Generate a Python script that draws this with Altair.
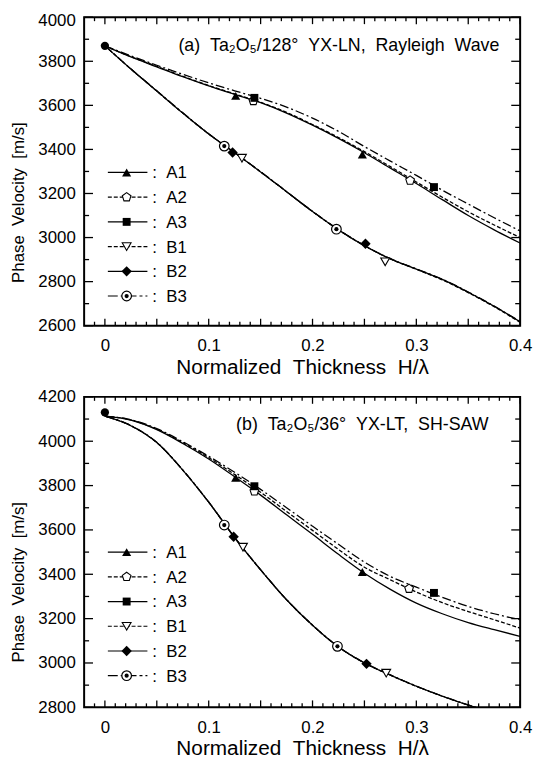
import altair as alt
import pandas as pd

FONT = "Liberation Sans"
SP = "\u00a0\u00a0"  # wide word gaps as in the original typesetting

# ---------------- data ----------------
XG = [0.0, 0.025, 0.05, 0.075, 0.1, 0.125, 0.15, 0.175, 0.2, 0.225,
      0.25, 0.275, 0.3, 0.325, 0.35, 0.375, 0.4]

# (a) Ta2O5/128deg YX-LN, Rayleigh wave
A_A1 = [3870, 3820, 3775, 3730, 3688, 3650, 3612, 3565, 3510, 3450,
        3385, 3315, 3245, 3172, 3100, 3035, 2975]
A_A2 = [3870, 3821, 3777, 3732, 3690, 3652, 3614, 3568, 3513, 3454,
        3390, 3322, 3252, 3183, 3117, 3057, 3000]
A_A3 = [3870, 3825, 3782, 3741, 3702, 3666, 3632, 3592, 3542, 3482,
        3413, 3347, 3282, 3215, 3152, 3090, 3030]
A_B1 = [3870, 3765, 3665, 3565, 3470, 3385, 3298, 3208, 3118, 3035,
        2963, 2903, 2856, 2808, 2750, 2686, 2615]
A_B2 = [3870, 3765, 3665, 3565, 3470, 3385, 3298, 3208, 3118, 3035,
        2963, 2903, 2857, 2810, 2752, 2688, 2618]
A_B3 = [3870, 3766, 3666, 3566, 3471, 3386, 3299, 3209, 3119, 3036,
        2964, 2904, 2858, 2811, 2753, 2689, 2619]

# (b) Ta2O5/36deg YX-LT, SH-SAW
XG_LOW = [0.0, 0.025, 0.05, 0.075, 0.1, 0.125, 0.15, 0.175, 0.2, 0.225,
          0.25, 0.275, 0.3, 0.325, 0.35, 0.36]
B_A1 = [4113, 4095, 4052, 3990, 3920, 3840, 3757, 3668, 3580, 3490,
        3405, 3332, 3270, 3222, 3182, 3150, 3120]
B_A2 = [4113, 4096, 4054, 3994, 3926, 3850, 3770, 3683, 3598, 3512,
        3432, 3375, 3320, 3272, 3232, 3195, 3157]
B_A3 = [4113, 4097, 4057, 3998, 3932, 3860, 3783, 3700, 3617, 3535,
        3455, 3390, 3342, 3296, 3255, 3222, 3195]
B_B1 = [4113, 4070, 3994, 3870, 3725, 3565, 3420, 3285, 3170, 3072,
        3000, 2945, 2895, 2850, 2810, 2795]
B_B2 = [4113, 4070, 3994, 3870, 3725, 3565, 3420, 3285, 3170, 3072,
        3000, 2945, 2895, 2850, 2810, 2795]
B_B3 = [4113, 4071, 3995, 3871, 3726, 3566, 3421, 3286, 3171, 3073,
        3001, 2946, 2896, 2851, 2811, 2796]

# measured points (markers)
A_MX = {"A1": [0.126, 0.248], "A2": [0.143, 0.294], "A3": [0.144, 0.317],
        "B1": [0.132, 0.270], "B2": [0.123, 0.251], "B3": [0.115, 0.223]}
A_MY = {"A1": [3643, 3377], "A2": [3620, 3259], "A3": [3634, 3229],
        "B1": [3360, 2890], "B2": [3386, 2972], "B3": [3415, 3038]}
B_MX = {"A1": [0.126, 0.248], "A2": [0.144, 0.293], "A3": [0.144, 0.317],
        "B1": [0.133, 0.271], "B2": [0.124, 0.252], "B3": [0.115, 0.224]}
B_MY = {"A1": [3835, 3410], "A2": [3774, 3335], "A3": [3797, 3316],
        "B1": [3522, 2954], "B2": [3569, 2996], "B3": [3622, 3075]}

ORIGIN_A = ([0.0], [3870])
ORIGIN_B = ([0.0], [4130])

SERIES = ["A1", "A2", "A3", "B1", "B2", "B3"]
X_LABELS = [0.0, 0.1, 0.2, 0.3, 0.4]
X_MAJOR = [0.0, 0.05, 0.1, 0.15, 0.2, 0.25, 0.3, 0.35, 0.4]
X_MINOR = [-0.01, 0.01, 0.02, 0.03, 0.04, 0.06, 0.07, 0.08, 0.09, 0.11,
           0.12, 0.13, 0.14, 0.16, 0.17, 0.18, 0.19, 0.21, 0.22, 0.23,
           0.24, 0.26, 0.27, 0.28, 0.29, 0.31, 0.32, 0.33, 0.34, 0.36,
           0.37, 0.38, 0.39]
YA_MAJOR = [2600, 2800, 3000, 3200, 3400, 3600, 3800, 4000]
YA_MINOR = [2700, 2900, 3100, 3300, 3500, 3700, 3900]
YB_MAJOR = [2800, 3000, 3200, 3400, 3600, 3800, 4000, 4200]
YB_MINOR = [2900, 3100, 3300, 3500, 3700, 3900, 4100]

# ---------------- styles ----------------
W = 441
DASHED = [4, 2]
DASHDOT = [9, 3, 2, 3]
CURVE_DASH = {"A1": None, "A2": DASHED, "A3": DASHDOT,
              "B1": DASHED, "B2": None, "B3": DASHDOT}
LEG_DASH = {"A1": None, "A2": DASHED, "A3": None,
            "B1": DASHED, "B2": None, "B3": [10, 3, 3, 3]}
PENTAGON = "M0,-1L0.951,-0.309L0.588,0.809L-0.588,0.809L-0.951,-0.309Z"


def marker_marks(s):
    """list of mark_point kwargs for a series' symbol"""
    if s == "A1":
        return [dict(shape="triangle-up", filled=True, color="black", size=85)]
    if s == "A2":
        return [dict(shape=PENTAGON, filled=True, fill="white", stroke="black",
                     strokeWidth=1.1, size=85)]
    if s == "A3":
        return [dict(shape="square", filled=True, color="black", size=64)]
    if s == "B1":
        return [dict(shape="triangle-down", filled=True, fill="white",
                     stroke="black", strokeWidth=1.1, size=80)]
    if s == "B2":
        return [dict(shape="diamond", filled=True, color="black", size=110)]
    return [dict(shape="circle", filled=True, fill="white", stroke="black",
                 strokeWidth=1.2, size=95),
            dict(shape="circle", filled=True, color="black", size=18)]


def make_panel(curves, mx, my, origin, ydom, ymaj, ymin, H, title, title_x,
               top_label_shift):
    xs = alt.Scale(domain=[-0.02, 0.4], nice=False, zero=False)
    ys = alt.Scale(domain=ydom, nice=False, zero=False)
    xax = alt.Axis(values=X_LABELS, grid=False, ticks=False, tickSize=0,
                   domain=False, labelFlush=False, labelOverlap=False,
                   labelExpr="datum.value == 0 ? '0' : format(datum.value, '.1f')",
                   labelFont=FONT, labelFontSize=17, labelColor="black",
                   labelPadding=12,
                   title="Normalized" + SP + "Thickness" + SP + "H/λ",
                   titleFont=FONT, titleFontSize=21, titleFontWeight="normal",
                   titleColor="black", titlePadding=3)
    yax = alt.Axis(values=ymaj, grid=False, ticks=False, tickSize=0,
                   domain=False, labelFlush=False, labelOverlap=False,
                   labelOffset={"condition": {"test": "datum.value == %d" % ydom[1],
                                              "value": top_label_shift},
                                "value": 0},
                   format="d", labelFont=FONT, labelFontSize=17,
                   labelColor="black", labelPadding=9,
                   title="Phase" + SP + "Velocity" + SP + "[m/s]",
                   titleFont=FONT, titleFontSize=17, titleFontWeight="normal",
                   titleColor="black", titleX=-57, titleY=187,
                   titleAngle=270, titleBaseline="bottom")
    X = alt.X("x:Q", scale=xs, axis=xax)
    Y = alt.Y("y:Q", scale=ys, axis=yax)

    layers = []
    # curves
    for s in SERIES:
        cx, cy = curves[s]
        kw = dict(interpolate="monotone", clip=True, color="black",
                  strokeWidth=1.3)
        if CURVE_DASH[s] is not None:
            kw["strokeDash"] = CURVE_DASH[s]
        layers.append(alt.Chart(pd.DataFrame({"x": cx, "y": cy}))
                      .mark_line(**kw).encode(x=X, y=Y))
    # markers
    for s in SERIES:
        df = pd.DataFrame({"x": mx[s], "y": my[s]})
        for kw in marker_marks(s):
            layers.append(alt.Chart(df).mark_point(opacity=1, **kw)
                          .encode(x=X, y=Y))
    # origin dot
    layers.append(alt.Chart(pd.DataFrame({"x": origin[0], "y": origin[1]}))
                  .mark_point(shape="circle", filled=True, color="black",
                              size=70, opacity=1).encode(x=X, y=Y))
    # ticks (inside, all four sides)
    for vals, L in ((X_MAJOR, 7), (X_MINOR, 4)):
        df = pd.DataFrame({"x": vals})
        layers.append(alt.Chart(df).mark_rule(color="black", strokeWidth=1.3)
                      .encode(x=X, y=alt.value(H), y2=alt.value(H - L)))
        layers.append(alt.Chart(df).mark_rule(color="black", strokeWidth=1.3)
                      .encode(x=X, y=alt.value(0), y2=alt.value(L)))
    for vals, L in ((ymaj, 9), (ymin, 5)):
        df = pd.DataFrame({"y": vals})
        layers.append(alt.Chart(df).mark_rule(color="black", strokeWidth=1.3)
                      .encode(y=Y, x=alt.value(0), x2=alt.value(L)))
        layers.append(alt.Chart(df).mark_rule(color="black", strokeWidth=1.3)
                      .encode(y=Y, x=alt.value(W), x2=alt.value(W - L)))
    # legend
    one = pd.DataFrame({"k": [0]})
    for i, s in enumerate(SERIES):
        ly = 157 + 25 * i
        kw = dict(color="black", strokeWidth=1.2)
        if LEG_DASH[s] is not None:
            kw["strokeDash"] = LEG_DASH[s]
        layers.append(alt.Chart(one).mark_rule(**kw).encode(
            x=alt.value(24), x2=alt.value(64), y=alt.value(ly)))
        for mk in marker_marks(s):
            layers.append(alt.Chart(one).mark_point(opacity=1, **mk).encode(
                x=alt.value(43), y=alt.value(ly)))
        layers.append(alt.Chart(one).mark_text(
            align="left", baseline="middle", font=FONT, fontSize=17,
            color="black").encode(x=alt.value(69), y=alt.value(ly + 1),
                                  text=alt.value(":" + SP + s)))
    # panel title
    layers.append(alt.Chart(one).mark_text(
        align="right", baseline="middle", font=FONT, fontSize=18,
        color="black").encode(x=alt.value(title_x), y=alt.value(29),
                              text=alt.value(title)))
    return alt.layer(*layers).properties(width=W, height=H)


curves_a = {"A1": (XG, A_A1), "A2": (XG, A_A2), "A3": (XG, A_A3),
            "B1": (XG, A_B1), "B2": (XG, A_B2), "B3": (XG, A_B3)}
curves_b = {"A1": (XG, B_A1), "A2": (XG, B_A2), "A3": (XG, B_A3),
            "B1": (XG_LOW, B_B1), "B2": (XG_LOW, B_B2), "B3": (XG_LOW, B_B3)}

pa = make_panel(curves_a, A_MX, A_MY, ORIGIN_A, [2600, 4000], YA_MAJOR,
                YA_MINOR, 312,
                "(a)" + SP + "Ta₂O₅/128°" + SP + "YX-LN," + SP + "Rayleigh" + SP + "Wave",
                420, 3)
pb = make_panel(curves_b, B_MX, B_MY, ORIGIN_B, [2800, 4200], YB_MAJOR,
                YB_MINOR, 314,
                "(b)" + SP + "Ta₂O₅/36°" + SP + "YX-LT," + SP + "SH-SAW",
                409, 0)

chart = alt.vconcat(pa, pb, spacing=9).configure_view(
    stroke="black", strokeWidth=2).properties(
    padding={"left": 1, "top": -2, "right": 0, "bottom": 0})

chart.save("out.html", embed_options={"renderer": "svg", "actions": False})
